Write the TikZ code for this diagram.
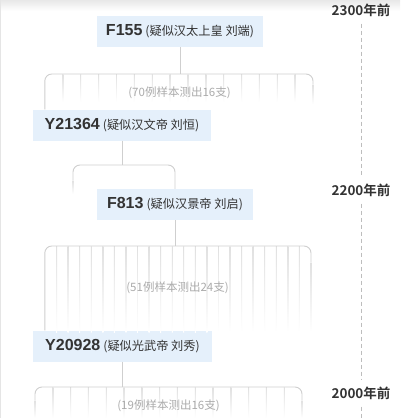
\documentclass[tikz,border=0pt]{standalone}
\usepackage{fontspec}
\setmainfont{Liberation Sans}
\newfontfamily\cjk[BoldFont={Noto Sans CJK SC Bold}]{Noto Sans CJK SC}
\definecolor{boxfill}{HTML}{E5F0FB}
\definecolor{lnc}{HTML}{CFCFCF}
\definecolor{tickc}{HTML}{E0E0E0}
\definecolor{txt}{HTML}{333333}
\definecolor{graytxt}{HTML}{ABABAB}
\definecolor{dashc}{HTML}{BDBDBD}
\newcommand\idtxt[2]{{\fontsize{16}{16}\selectfont\bfseries #1}\hspace{3pt}{\cjk\fontsize{12.2}{12.2}\selectfont (#2)}}
\newcommand\tickfade[3]{\shade[top color=tickc, bottom color=white] ({#1-0.45},#2) rectangle ({#1+0.45},#3);}
\begin{document}
\begin{tikzpicture}[x=1pt,y=-1pt,
  idbox/.style={fill=boxfill, inner sep=0pt, minimum height=31pt, text=txt},
  brk/.style={draw=lnc, line width=0.9pt},
  conn/.style={draw=lnc, line width=1pt},
  cnt/.style={text=graytxt, font=\cjk\fontsize{11.5}{11.5}\selectfont, inner sep=0pt},
  year/.style={text=txt, font=\cjk\bfseries\fontsize{13.5}{13.5}\selectfont, inner sep=7pt},
  tl/.style={draw=dashc, line width=0.8pt, dash pattern=on 4pt off 3pt}]
\useasboundingbox (0,0) rectangle (400,418);
\fill[white] (0,0) rectangle (400,418);
\shade[top color=black!9, bottom color=white] (0,0) rectangle (400,11);
\fill[black!10] (0,0) rectangle (1.2,418);

% timeline
\node[year] (yr1) at (361,10) {2300年前};
\node[year] (yr2) at (361,190) {2200年前};
\node[year] (yr3) at (361,393) {2000年前};
\coordinate (tend) at (361,418);
\draw[tl] (yr1) -- (yr2);
\draw[tl] (yr2) -- (yr3);
\draw[tl] (yr3) -- (tend);

% boxes
\node[idbox, minimum width=166pt] (f155) at (180,31.5) {\idtxt{F155}{疑似汉太上皇 刘端}};
\node[idbox, minimum width=178pt] (y21364) at (122,125) {\idtxt{Y21364}{疑似汉文帝 刘恒}};
\node[idbox, minimum width=156pt] (f813) at (175,204.5) {\idtxt{F813}{疑似汉景帝 刘启}};
\node[idbox, minimum width=179pt] (y20928) at (122.5,346) {\idtxt{Y20928}{疑似光武帝 刘秀}};

% bracket 1
\coordinate (b1) at (180,74);
\foreach \i in {1,...,14} {\tickfade{45+\i*17.87}{74}{102}}
\draw[conn] (f155) -- (b1);
\draw[brk, rounded corners=7pt] ([xshift=12pt]y21364.north west) |- (b1) -| (313,84);
\tickfade{313}{84}{104}
\node[cnt] (l1) at (179.5,93) {(70例样本测出16支)};

% bracket 2
\coordinate (b2) at (122,165);
\draw[conn] (y21364) -- (b2);
\draw[brk, rounded corners=7pt] (73,180) |- (b2) -| (f813.north);
\tickfade{73}{180}{194}

% bracket 3
\coordinate (b3) at (175,246);
\foreach \i in {1,...,22} {\tickfade{45+\i*11.565}{246}{332}}
\draw[conn] (f813) -- (b3);
\draw[brk, rounded corners=7pt] ([xshift=12pt]y20928.north west) |- (b3) -| (311,262);
\tickfade{311}{262}{332}
\node[cnt] (l2) at (177.5,288) {(51例样本测出24支)};

% bracket 4
\coordinate (b4) at (122.5,387);
\foreach \i in {1,...,14} {\tickfade{35+\i*17.8}{387}{418}}
\draw[conn] (y20928) -- (b4);
\draw[brk, rounded corners=7pt] (35,400) |- (b4) -| (302,400);
\tickfade{35}{400}{418}
\tickfade{302}{400}{418}
\node[cnt] (l3) at (168.5,406) {(19例样本测出16支)};
\end{tikzpicture}
\end{document}
